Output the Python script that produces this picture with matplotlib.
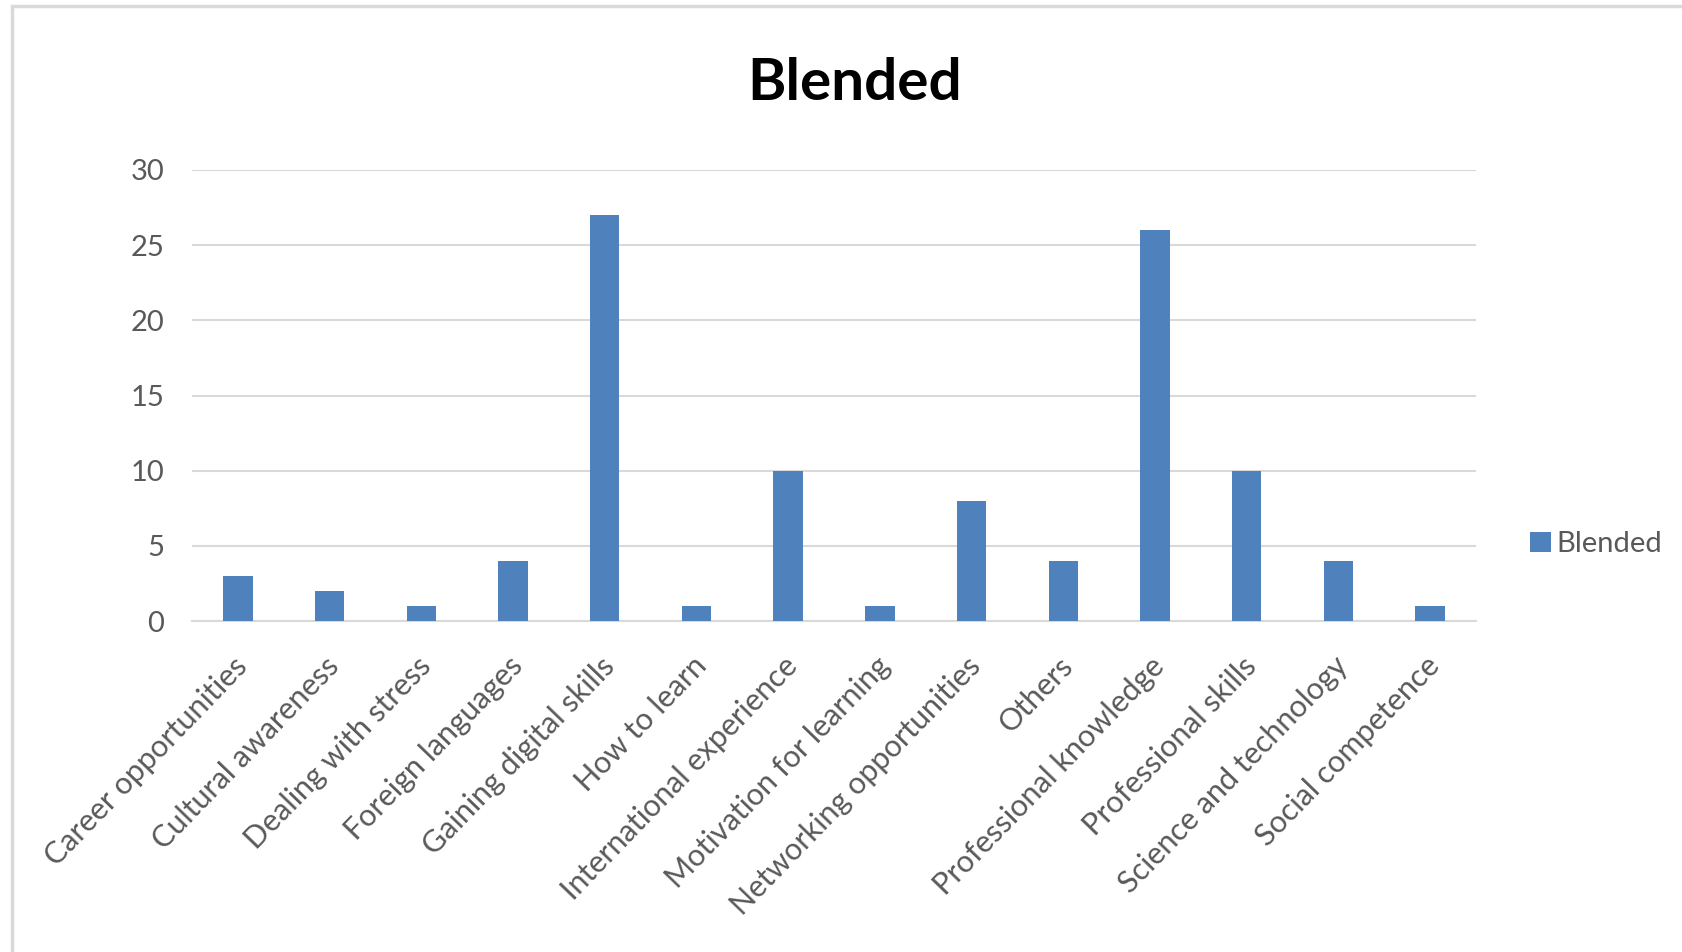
import matplotlib
matplotlib.use("Agg")
import matplotlib.pyplot as plt
import matplotlib.transforms as mtransforms
from matplotlib.patches import Rectangle

# === データ ===
categories = [
    "Career opportunities", "Cultural awareness", "Dealing with stress",
    "Foreign languages", "Gaining digital skills", "How to learn",
    "International experience", "Motivation for learning",
    "Networking opportunities", "Others", "Professional knowledge",
    "Professional skills", "Science and technology", "Social competence",
]
blended = [3, 2, 1, 4, 27, 1, 10, 1, 8, 4, 26, 10, 4, 1]
y_ticks = [0, 5, 10, 15, 20, 25, 30]

W, H = 1683, 952
plt.rcParams["font.family"] = ["Lato", "DejaVu Sans"]

fig = plt.figure(figsize=(W / 100, H / 100), dpi=100)
fig.patch.set_facecolor("white")

# 枠線 (左と上だけ見える)
fig.add_artist(Rectangle((12 / W, -0.2), 2.0, 1.2 - 6 / H, transform=fig.transFigure,
                         fill=False, ec="#d9d9d9", lw=2.5))

ax = fig.add_axes([192 / W, 1 - 621 / H, (1476 - 192) / W, (621 - 170) / H])
x = range(len(categories))
bars = ax.bar(x, blended, width=0.32, color="#4f81bd", label="Blended", zorder=3)

ax.set_xlim(-0.5, len(categories) - 0.5)
ax.set_ylim(0, 30)
ax.set_yticks(y_ticks)
ax.set_yticklabels([str(v) for v in y_ticks])
ax.grid(axis="y", color="#d9d9d9", lw=1.5, zorder=0)
for s in ["top", "right", "left"]:
    ax.spines[s].set_visible(False)
ax.spines["bottom"].set_color("#d9d9d9")
ax.spines["bottom"].set_linewidth(1.5)
ax.tick_params(axis="y", length=0, pad=20, labelsize=21, labelcolor="#595959")
ax.tick_params(axis="x", length=0, pad=29)
ax.set_xticks(list(x))
ax.set_xticklabels(categories, rotation=46, ha="right", va="center",
                   rotation_mode="anchor", fontsize=22, color="#595959")
# ラベルを少し右へ
shift = mtransforms.ScaledTranslation(5 / 100, 0, fig.dpi_scale_trans)
for lab in ax.get_xticklabels():
    lab.set_transform(lab.get_transform() + shift)

fig.text(855 / W, 1 - 83 / H, "Blended", ha="center", va="center",
         fontsize=42, fontweight="bold", color="black")

ax.legend(loc="center left", bbox_to_anchor=(1.022, 0.17), frameon=False,
          fontsize=21, labelcolor="#595959", handlelength=0.7, handleheight=0.7,
          handletextpad=0.2)

fig.savefig("out.png", dpi=100)
